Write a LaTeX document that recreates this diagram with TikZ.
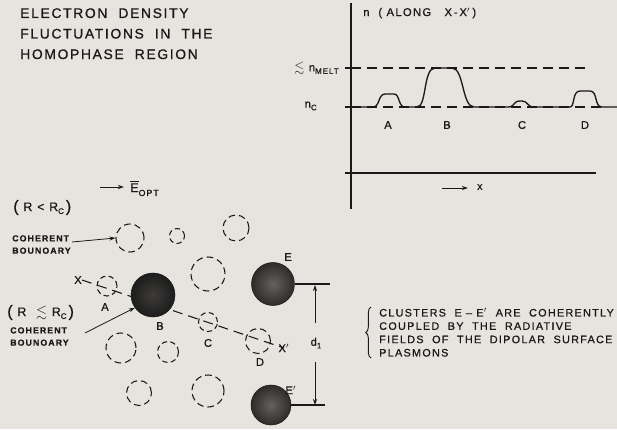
\documentclass[tikz,border=0pt]{standalone}
\usepackage{fontspec}
\usepackage{amssymb}
\setmainfont{Liberation Sans}
\newfontfamily\lf[LetterSpace=12,FakeBold=0.8]{Liberation Sans}
\usetikzlibrary{arrows.meta,decorations.pathreplacing}
\definecolor{bg}{RGB}{231,228,224}
\definecolor{ink}{RGB}{25,25,25}
\newcommand\myfs[2]{\fontsize{#1}{#2}\selectfont}
\newcommand\sub[1]{\raisebox{-0.45ex}{\myfs{6}{7}#1}}
\begin{document}
\begin{tikzpicture}[x=0.75pt,y=-0.75pt,
  lab/.style={font=\lf\myfs{8.4}{10}, inner sep=0pt, text=ink},
  small/.style={font=\lf\bfseries\myfs{6.6}{9.2}, inner sep=0pt, text=ink, align=left},
  dc/.style={circle, draw=ink, line width=0.8pt, dash pattern=on 5pt off 3pt, inner sep=0pt},
  ballB/.style={circle, inner sep=0pt, draw=ink, inner color={rgb,255:red,62;green,60;blue,58}, outer color={rgb,255:red,28;green,28;blue,28}},
  ballE/.style={circle, inner sep=0pt, draw=ink, inner color={rgb,255:red,100;green,97;blue,94}, outer color={rgb,255:red,45;green,44;blue,43}},
  arr/.style={-{Stealth[length=4.5pt,width=3pt]}, line width=0.6pt, draw=ink},
  ln/.style={line width=0.8pt, draw=ink},
  dl/.style={line width=0.8pt, draw=ink, dash pattern=on 7.5pt off 4.5pt}]
\fill[bg] (0,0) rectangle (617,429);
\useasboundingbox (0,0) rectangle (617,429);

% title
\node[lab, font=\lf\myfs{10.4}{15.4}, anchor=north west, align=left] (title) at (20,8)
  {ELECTRON\ \ DENSITY\\FLUCTUATIONS\ \ IN\ \ THE\\HOMOPHASE\ \ REGION};

% ---- graph ----
\coordinate (ytop) at (351,3);
\coordinate (ybot) at (351,209);
\draw[ln] (ytop) -- (ybot);
\coordinate (bl0) at (345,173);
\coordinate (bl1) at (596,173);
\draw[ln] (bl0) -- (bl1);
\node[lab, font=\lf\myfs{8.4}{9}, anchor=base west] (ylab) at (363,16) {n\ \ (\ ALONG\ \ \ X\,-\,X$'$\,)};
\coordinate (m0) at (345,68);
\coordinate (m1) at (585,68);
\draw[ln] (m0) -- (351,68);
\draw[dl] (351,68) -- (m1);
\coordinate (c0) at (345,107);
\coordinate (cc1) at (605,107);
\draw[ln] (c0) -- (351,107);
\draw[dl] (351,107) -- (cc1);
\node[lab, anchor=east] (nmelt) at (339,68) {\scalebox{1.15}{$\lesssim$}\ n\sub{MELT}};
\node[lab, anchor=east] (nc) at (317,106) {n\sub{C}};
\draw[line width=1pt, draw=ink] (357,107) -- (373,107)
  .. controls (380,107) and (378,94) .. (385,94) -- (394,94)
  .. controls (400,94) and (398,107) .. (405,107) -- (417,107)
  .. controls (427,107) and (423,68) .. (435,68) -- (452,68)
  .. controls (464,68) and (462,107) .. (474,107) -- (508,107)
  .. controls (515,107) and (513,101) .. (520,101) -- (522,101)
  .. controls (528,101) and (527,107) .. (534,107) -- (570,107)
  .. controls (575,107) and (572,91) .. (580,91) -- (590,91)
  .. controls (598,91) and (594,107) .. (602,107) -- (617,107);
\node[lab] (gA) at (388,125) {A};
\node[lab] (gB) at (447,125) {B};
\node[lab] (gC) at (522,125) {C};
\node[lab] (gD) at (585,125) {D};
\coordinate (xa0) at (442,188);
\node[lab, font=\lf\myfs{7.8}{9}, anchor=west] (xlab) at (477,187) {x};
\draw[arr] (xa0) -- (468,188);

% ---- lower diagram ----
\node[lab, font=\lf\myfs{9.4}{11}, anchor=base west] (eopt) at (130,192) {$\overline{\hbox{E}}$\raisebox{-0.6ex}{\myfs{6.6}{7}OPT}};
\coordinate (ea0) at (100,187);
\draw[arr] (ea0) -- (124,187);

\node[lab, font=\lf\myfs{9.2}{11}, anchor=base west] (rlt) at (13,211) {\raisebox{-0.1ex}{\myfs{12}{12}(}\ R\ <\ R\sub{C}\,\raisebox{-0.1ex}{\myfs{12}{12})}};
\node[small, anchor=north west] (coh1) at (12,235) {COHERENT\\BOUNOARY};

\node[lab, font=\lf\myfs{9.2}{11}, anchor=base west] (rle) at (7,316) {\raisebox{-0.1ex}{\myfs{12}{12}(}\ R\ \ \scalebox{1.15}{$\lesssim$}\ R\sub{C}\,\raisebox{-0.1ex}{\myfs{12}{12})}};
\node[small, anchor=north west] (coh2) at (10,327) {COHERENT\\BOUNOARY};

% dashed circles
\node[dc, minimum size=21pt] (c1) at (130,238) {};
\node[dc, minimum size=11.25pt, dash pattern=on 4pt off 2.5pt] (c2) at (177,236) {};
\node[dc, minimum size=19.5pt] (c3) at (236,228) {};
\node[dc, minimum size=25.5pt] (c4) at (208,274) {};
\node[dc, minimum size=15pt, dash pattern=on 4pt off 2.5pt] (cA) at (107,286) {};
\node[dc, minimum size=14.25pt, dash pattern=on 4pt off 2.5pt] (cC) at (208,322) {};
\node[dc, minimum size=18.75pt] (cD) at (258,341) {};
\node[dc, minimum size=22.5pt] (c8) at (121,348) {};
\node[dc, minimum size=15.75pt, dash pattern=on 4pt off 2.5pt] (c9) at (168,352) {};
\node[dc, minimum size=18.75pt] (c10) at (139,393) {};
\node[dc, minimum size=24pt] (c11) at (208,391) {};

% X - X' line
\node[lab] (X) at (78,280) {X};
\node[lab] (Xp) at (284,348) {X$'$};
\draw[dl] (X.east) -- (Xp.center);

% dark clusters
\node[ballB, minimum size=33pt] (B) at (153,295) {};
\node[ballE, minimum size=32.25pt] (E) at (273,284) {};
\node[ballE, minimum size=30pt] (Ep) at (271,405) {};

\node[lab] (lA) at (105,307) {A};
\node[lab] (lB) at (160,326) {B};
\node[lab] (lC) at (208,343) {C};
\node[lab] (lD) at (260,362) {D};
\node[lab] (lE) at (288,257) {E};
\node[lab] (lEp) at (291,390) {E$'$};

% coherent boundary arrows
\draw[arr] (72,242) -- (c1.west);
\draw[arr] (85,333) -- (B.215);

% d1 dimension
\coordinate (Er) at (330,284);
\coordinate (Epr) at (325,405);
\draw[ln] (E.east) -- (Er);
\draw[ln] (Ep.east) -- (Epr);
\node[lab] (d1) at (316,343) {d\raisebox{-0.45ex}{\myfs{6}{7}1}};
\coordinate (dt) at (315,323);
\coordinate (db) at (315,362);
\draw[arr] (dt) -- (315,285);
\draw[arr] (db) -- (315,405);

% note
\draw[ln, line width=0.7pt, decorate, decoration={brace, amplitude=4pt}] (371,358) -- (371,307);
\node[lab, font=\lf\myfs{8.1}{10}, anchor=north west, align=left] (note) at (379,308)
  {CLUSTERS\ \ E\ –\ E$'$\ \ ARE\ \ COHERENTLY\\COUPLED\ \ BY\ \ THE\ \ RADIATIVE\\FIELDS\ \ OF\ \ THE\ \ DIPOLAR\ \ SURFACE\\PLASMONS};
\end{tikzpicture}
\end{document}
